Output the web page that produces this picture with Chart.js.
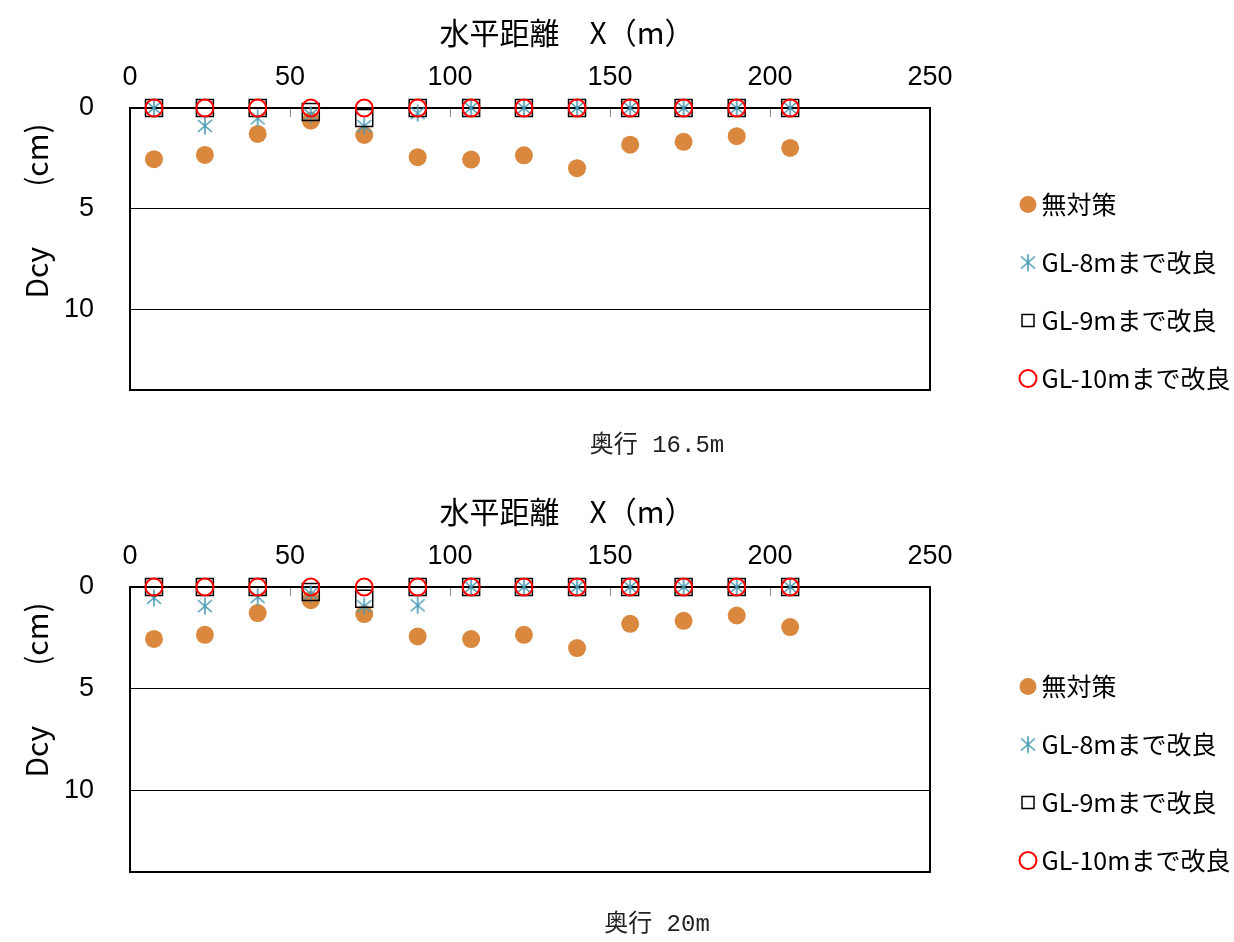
<!DOCTYPE html>
<html>
<head>
<meta charset="utf-8">
<script src="https://cdn.jsdelivr.net/npm/chart.js@4.4.1/dist/chart.umd.min.js"></script>
<style>
  body { margin: 0; background: #fff; width: 1234px; height: 942px; position: relative; overflow: hidden; }
  .box { position: absolute; left: 0; width: 1234px; height: 440px; }
  .cap { position: absolute; left: 40px; width: 1234px; text-align: center; color: #222;
         font: 24px "Liberation Mono", "Noto Sans CJK JP", monospace; line-height: 28px; }
</style>
</head>
<body>
<div class="box" style="top:0"><canvas id="chart165"></canvas></div>
<div class="cap" style="top:432px">奥行 16.5m</div>
<div class="box" style="top:479px;height:443px"><canvas id="chart20"></canvas></div>
<div class="cap" style="top:911px">奥行 20m</div>

<script>
// horizontal distance of each measuring point (m)
const xDist = [7.5, 23.4, 39.9, 56.5, 73.2, 89.9, 106.6, 123.1, 139.7, 156.3, 173.0, 189.6, 206.3];

const seriesNames = ['無対策', 'GL-8mまで改良', 'GL-9mまで改良', 'GL-10mまで改良'];

// depth 16.5m, Dcy (cm)
const none165 = [2.54, 2.33, 1.29, 0.63, 1.34, 2.44, 2.56, 2.35, 2.99, 1.82, 1.68, 1.40, 1.98];
const gl8_165 = [0, 0.89, 0.51, 0.33, 0.9, 0.26, 0, 0, 0, 0, 0, 0, 0];
const gl9_165 = [0, 0, 0, 0.2, 0.5, 0, 0, 0, 0, 0, 0, 0, 0];
const gl10_165 = [0, 0, 0, 0, 0, 0, 0, 0, 0, 0, 0, 0, 0];

// depth 20m, Dcy (cm)
const none20 = [2.55, 2.35, 1.28, 0.65, 1.33, 2.43, 2.56, 2.35, 3.0, 1.81, 1.66, 1.40, 1.97];
const gl8_20 = [0.53, 0.94, 0.49, 0.33, 0.95, 0.9, 0, 0, 0, 0, 0, 0, 0];
const gl9_20 = [0, 0, 0, 0.25, 0.58, 0, 0, 0, 0, 0, 0, 0, 0];
const gl10_20 = [0, 0, 0, 0, 0, 0, 0, 0, 0, 0, 0, 0, 0];

const xTitle = '水平距離　X（m）';
const yTitle = 'Dcy　　(cm)';

const ORANGE = '#D9883E';
const TEAL = '#4A9CB6';

function asterisk(color) {
  const c = document.createElement('canvas');
  c.width = 18; c.height = 18;
  const g = c.getContext('2d');
  g.strokeStyle = color;
  g.lineWidth = 1.6;
  g.beginPath();
  g.moveTo(9, 0.5); g.lineTo(9, 17.5);
  g.moveTo(2, 3); g.lineTo(16, 15);
  g.moveTo(2, 15); g.lineTo(16, 3);
  g.stroke();
  return c;
}
const starImg = asterisk(TEAL);

const toPts = (arr) => arr.map((v, i) => ({ x: xDist[i], y: v }));

// frame, inner ticks on the top axis and the free-placed axis titles
const framePlugin = {
  id: 'frame',
  beforeDatasetsDraw(chart) {
    const { ctx, chartArea: a } = chart;
    const x = chart.scales.x;
    ctx.save();
    ctx.strokeStyle = '#888';
    ctx.lineWidth = 1;
    x.ticks.forEach(t => {
      if (t.value <= x.min || t.value >= x.max) return;
      const px = Math.round(x.getPixelForValue(t.value)) + 0.5;
      ctx.beginPath();
      ctx.moveTo(px, a.top);
      ctx.lineTo(px, a.top + 9);
      ctx.stroke();
    });
    ctx.strokeStyle = '#000';
    ctx.lineWidth = 2;
    ctx.strokeRect(a.left, a.top, a.right - a.left, a.bottom - a.top);
    ctx.restore();
  },
  afterDraw(chart) {
    const { ctx, chartArea: a } = chart;
    ctx.save();
    ctx.fillStyle = '#000';
    ctx.font = '30px "Noto Sans CJK JP"';
    ctx.textAlign = 'center';
    ctx.textBaseline = 'middle';
    ctx.fillText(xTitle, a.left + 437, a.top - 75);
    ctx.translate(a.left - 93, a.top + 103);
    ctx.rotate(-Math.PI / 2);
    ctx.fillText(yTitle, 0, 0);
    ctx.restore();
  }
};

function makeChart(id, none, gl8, gl9, gl10) {
  const ctx = document.getElementById(id).getContext('2d');
  return new Chart(ctx, {
    type: 'scatter',
    data: {
      datasets: [
        { label: seriesNames[0], data: toPts(none), order: 4, clip: false,
          pointStyle: 'circle', pointRadius: 9, pointHoverRadius: 9,
          backgroundColor: ORANGE, borderColor: ORANGE, borderWidth: 0 },
        { label: seriesNames[1], data: toPts(gl8), order: 3, clip: false,
          pointStyle: starImg, pointRadius: 9,
          backgroundColor: TEAL, borderColor: TEAL },
        { label: seriesNames[2], data: toPts(gl9), order: 2, clip: false,
          pointStyle: 'rect', pointRadius: 12, pointHoverRadius: 12,
          backgroundColor: 'rgba(0,0,0,0)', borderColor: '#000', borderWidth: 1.5 },
        { label: seriesNames[3], data: toPts(gl10), order: 1, clip: false,
          pointStyle: 'circle', pointRadius: 8.5, pointHoverRadius: 8.5,
          backgroundColor: 'rgba(0,0,0,0)', borderColor: '#FF0000', borderWidth: 2 },
      ]
    },
    options: {
      responsive: true,
      maintainAspectRatio: false,
      animation: false,
      layout: { autoPadding: false, padding: { left: 0, top: 0, right: 0, bottom: 16 } },
      scales: {
        x: {
          type: 'linear', position: 'top', min: 0, max: 250,
          ticks: { stepSize: 50, color: '#000', padding: 6, font: { family: 'Liberation Sans', size: 27 } },
          grid: { display: false },
          border: { display: false },
          afterFit: (s) => { s.height = 108; }
        },
        y: {
          type: 'linear', reverse: true, min: 0, max: 14,
          ticks: { stepSize: 5, includeBounds: false, color: '#000', padding: 36,
                   font: { family: 'Liberation Sans', size: 27 } },
          grid: { color: '#000', lineWidth: 1, drawTicks: false },
          border: { display: false },
          afterFit: (s) => { s.width = 130; s.paddingTop = 0; s.paddingBottom = 50; }
        },
        pad: {
          type: 'linear', position: 'right', display: true,
          ticks: { display: false }, grid: { display: false }, border: { display: false },
          afterFit: (s) => { s.width = 64; }
        }
      },
      plugins: {
        legend: {
          position: 'right',
          align: 'end',
          maxWidth: 240,
          labels: {
            usePointStyle: true, boxWidth: 2, boxHeight: 12, padding: 33, color: '#000',
            font: { family: 'Noto Sans CJK JP', size: 25 },
            sort: (a, b) => a.datasetIndex - b.datasetIndex
          }
        },
        tooltip: { enabled: false }
      }
    },
    plugins: [framePlugin]
  });
}

makeChart('chart165', none165, gl8_165, gl9_165, gl10_165);
makeChart('chart20', none20, gl8_20, gl9_20, gl10_20);
</script>
</body>
</html>
